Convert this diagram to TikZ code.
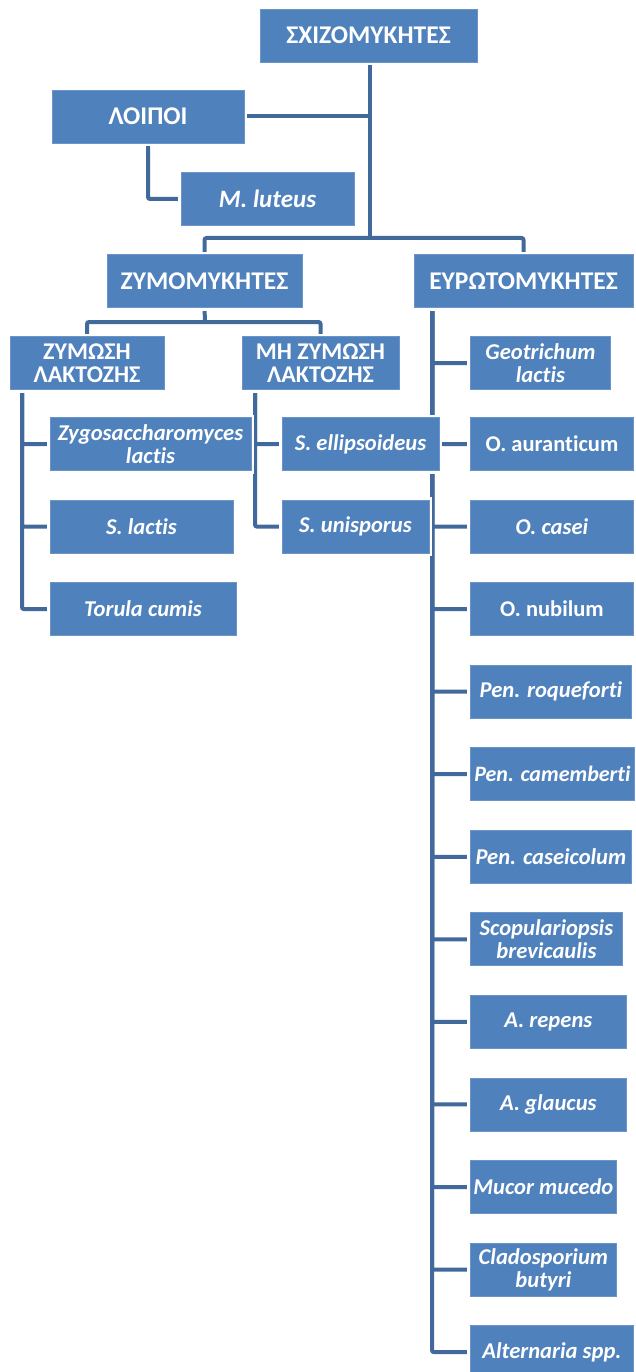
\documentclass[tikz,border=0pt]{standalone}
\usepackage{fontspec}
\setmainfont[Ligatures=NoCommon]{Carlito}
\usetikzlibrary{backgrounds}
\definecolor{boxfill}{HTML}{4F81BD}
\definecolor{boxline}{HTML}{6B95C8}
\definecolor{conncol}{HTML}{41699B}
\tikzset{
  box/.style={preaction={draw=white,line width=6pt},fill=boxfill,draw=boxline,line width=0.8pt,
    minimum height=53pt,inner sep=0pt,align=center,text=white,
    font=\fontsize{22.5}{23}\selectfont\bfseries},
  rbox/.style={box,anchor=west},
  big/.style={font=\fontsize{25.5}{23}\selectfont\bfseries},
  two/.style={font=\fontsize{24}{23}\selectfont\bfseries},
  it/.style={font=\fontsize{22.6}{23}\selectfont\bfseries\itshape},
  conn/.style={draw=conncol,line width=4pt,rounded corners=2pt}
}
\begin{document}
\begin{tikzpicture}[x=1pt,y=-1pt]
\useasboundingbox (0,0) rectangle (635,1372);
% level boxes
\node[box,big,minimum width=217pt] (top) at (368.5,35.5) {ΣΧΙΖΟΜΥΚΗΤΕΣ};
\node[box,big,minimum width=192pt] (loipoi) at (148,116.5) {ΛΟΙΠΟΙ};
\node[box,minimum width=173pt,font=\fontsize{25}{23}\selectfont\bfseries\itshape] (mlut) at (267.5,199) {M. luteus};
\node[box,big,minimum width=195pt] (zymo) at (204.5,281) {ΖΥΜΟΜΥΚΗΤΕΣ};
\node[box,big,minimum width=219pt] (evro) at (523.5,281) {ΕΥΡΩΤΟΜΥΚΗΤΕΣ};
\node[box,two,minimum width=154pt] (zl) at (87,363) {ΖΥΜΩΣΗ\\ΛΑΚΤΟΖΗΣ};
\node[box,two,minimum width=157pt] (mzl) at (320.5,363) {ΜΗ ΖΥΜΩΣΗ\\ΛΑΚΤΟΖΗΣ};
% left column
\node[box,it,minimum width=201pt] (zygo) at (150.5,444) {Zygosaccharomyces\\lactis};
\node[box,it,minimum width=183pt] (slac) at (141.5,526.6) {S. lactis};
\node[box,it,minimum width=186pt] (tor) at (143,609.1) {Torula cumis};
% middle column
\node[box,it,minimum width=157pt] (sell) at (360.5,444) {S. ellipsoideus};
\node[box,it,minimum width=147pt] (suni) at (355.5,526.6) {S. unisporus};
% right column
\node[rbox,it,minimum width=140pt] (geo) at (470,363) {Geotrichum\\lactis};
\node[rbox,minimum width=163pt] (aur) at (470,444) {O. auranticum};
\node[rbox,it,minimum width=163pt] (cas) at (470,526.6) {O. casei};
\node[rbox,minimum width=163pt] (nub) at (470,609.1) {O. nubilum};
\node[rbox,it,minimum width=161pt] (roq) at (470,691.7) {Pen. roqueforti};
\node[rbox,minimum width=164pt,font=\fontsize{22}{23}\selectfont\bfseries\itshape] (cam) at (470,774.2) {Pen. camemberti};
\node[rbox,it,minimum width=161pt] (casc) at (470,856.8) {Pen. caseicolum};
\node[rbox,it,minimum width=152pt] (scop) at (470,939.3) {Scopulariopsis\\brevicaulis};
\node[rbox,it,minimum width=156pt] (arep) at (470,1021.9) {A. repens};
\node[rbox,it,minimum width=156pt] (agl) at (470,1104.4) {A. glaucus};
\node[rbox,it,minimum width=146pt] (muc) at (470,1187) {Mucor mucedo};
\node[rbox,it,minimum width=146pt] (clad) at (470,1269.5) {Cladosporium\\butyri};
\node[rbox,it,minimum width=163pt] (alt) at (470,1352.1) {Alternaria spp.};
% connectors
\begin{pgfonlayer}{background}
\coordinate (b1) at (370,238);
\draw[conn] (top.south -| b1) -- (b1);
\draw[conn] (zymo.north) |- (b1) -| (evro.north);
\draw[conn] (loipoi.east) -- (loipoi.east -| b1);
\draw[conn] (loipoi.south) |- (mlut.west);
\coordinate (b2) at (205,322);
\draw[conn] (zymo.south) -- (b2);
\draw[conn] (zl.north) |- (b2) -| (mzl.north);
\coordinate (z1) at (22,389);
\foreach \n in {zygo,slac,tor} \draw[conn] (z1) |- (\n.west);
\coordinate (m1) at (255,389);
\foreach \n in {sell,suni} \draw[conn] (m1) |- (\n.west);
\coordinate (e1) at (432,307);
\foreach \n in {geo,aur,cas,nub,roq,cam,casc,scop,arep,agl,muc,clad,alt} \draw[conn] (e1) |- (\n.west);
\end{pgfonlayer}
\end{tikzpicture}
\end{document}
